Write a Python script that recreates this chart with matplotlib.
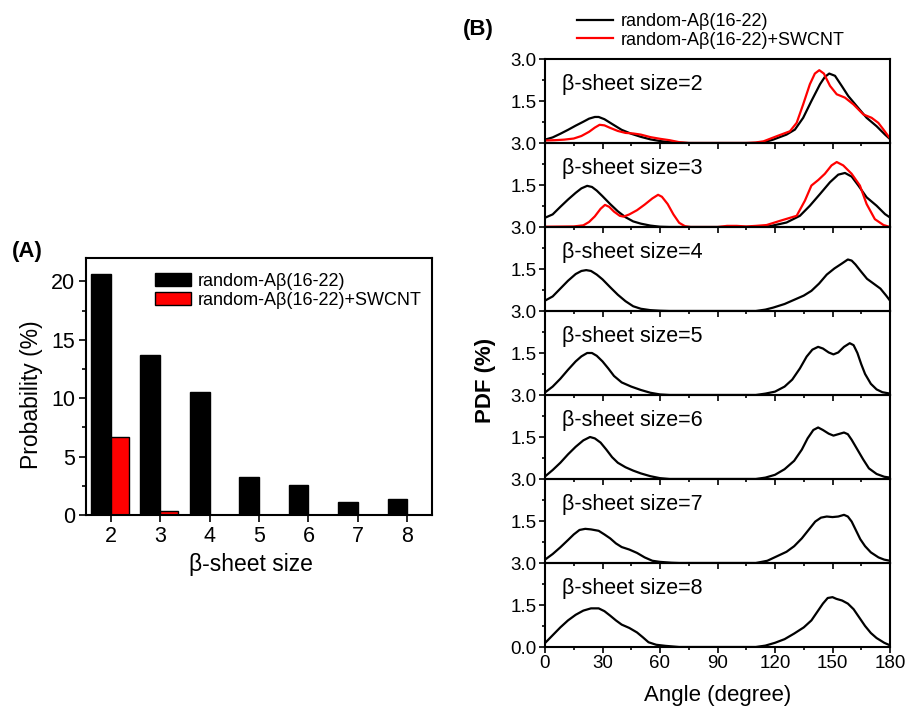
import numpy as np
import matplotlib.pyplot as plt
from matplotlib.patches import Patch
from matplotlib.lines import Line2D

plt.rcParams['font.family'] = ['Liberation Sans', 'DejaVu Sans']

# (A) probability of each beta-sheet size
sizes = [2, 3, 4, 5, 6, 7, 8]
prob_free = [20.6, 13.7, 10.5, 3.26, 2.55, 1.1, 1.39]
prob_cnt = [6.64, 0.34, 0, 0, 0, 0, 0]

# (B) angle PDFs for each beta-sheet size (angle in degree, PDF in %)
ang2 = [0, 4, 8, 12, 16, 20, 23, 26, 28, 31, 35, 40, 45, 50, 55, 60, 65, 70, 75,
        110, 114, 119, 126, 130.4, 134.7, 139, 143.5, 146, 148.3, 151.3, 154.8,
        158.2, 162.6, 167.8, 173, 177.4, 180]
pdf2 = [0.12, 0.2, 0.33, 0.47, 0.62, 0.76, 0.87, 0.93, 0.93, 0.85, 0.68, 0.47, 0.33,
        0.22, 0.13, 0.07, 0.03, 0.01, 0,
        0, 0.02, 0.12, 0.3, 0.48, 0.9, 1.5, 2.1, 2.36, 2.48, 2.4, 2.04,
        1.68, 1.32, 0.9, 0.6, 0.3, 0.14]
ang2c = [0, 5, 10, 15, 19, 23, 26, 28.5, 31, 34, 38, 42, 46, 50, 55, 60, 65, 70, 75,
         105, 110, 114, 120.8, 127.8, 131.3, 134.7, 138.2, 140.8, 143.1, 145.5, 148.7,
         152.2, 156.5, 160.9, 166.1, 170.4, 173.9, 176.6, 180]
pdf2c = [0.09, 0.1, 0.12, 0.16, 0.25, 0.4, 0.55, 0.65, 0.63, 0.54, 0.43, 0.36, 0.34,
         0.3, 0.21, 0.15, 0.1, 0.03, 0,
         0, 0.02, 0.06, 0.24, 0.42, 0.72, 1.38, 2.1, 2.48, 2.6, 2.48, 2.04,
         1.74, 1.62, 1.38, 1.02, 0.9, 0.72, 0.48, 0.16]

ang3 = [0, 4, 8, 12, 16, 19, 22, 24.5, 27, 30, 34, 38, 42, 46, 50, 55, 60, 65,
        112, 117.4, 126, 133, 138.2, 143.5, 148.7, 153, 156.5, 160, 163.5, 167.8,
        173, 177.4, 180]
pdf3 = [0.33, 0.45, 0.72, 0.98, 1.22, 1.38, 1.47, 1.43, 1.3, 1.1, 0.82, 0.56, 0.35,
        0.2, 0.12, 0.05, 0.01, 0,
        0, 0.03, 0.16, 0.4, 0.76, 1.18, 1.6, 1.87, 1.93, 1.8, 1.48, 1.06,
        0.76, 0.46, 0.34]
ang3c = [0, 15, 20, 23, 26, 29, 31.3, 33.5, 36, 39, 41, 44, 48, 52, 56, 59, 61, 64,
         67, 70, 73, 76, 90, 95, 100, 105, 110, 115.6, 122.6, 131.3, 135.6, 139,
         142.6, 146, 149.5, 152.2, 155.6, 160, 164.3, 167.8, 172.1, 176.6, 180]
pdf3c = [0.01, 0.02, 0.06, 0.18, 0.38, 0.65, 0.79, 0.72, 0.55, 0.4, 0.37, 0.45, 0.6,
         0.8, 1.02, 1.15, 1.08, 0.82, 0.45, 0.15, 0.03, 0, 0, 0.04, 0.04, 0.02,
         0.04, 0.07, 0.22, 0.4, 0.94, 1.48, 1.68, 1.9, 2.2, 2.32, 2.2, 1.9, 1.48,
         0.82, 0.28, 0.07, 0]

ang4 = [0, 4, 8, 12, 16, 19, 21.5, 24, 27, 30, 34, 38, 42, 46, 50, 55, 60, 65,
        110, 115, 119, 125, 130, 135, 139, 143, 147, 151, 155, 158, 160, 162, 165,
        168, 171, 175, 178, 180]
pdf4 = [0.37, 0.52, 0.8, 1.08, 1.32, 1.43, 1.46, 1.43, 1.3, 1.13, 0.85, 0.58, 0.35,
        0.17, 0.08, 0.03, 0.01, 0,
        0, 0.05, 0.12, 0.25, 0.4, 0.55, 0.72, 0.98, 1.3, 1.52, 1.7, 1.84, 1.8, 1.66,
        1.4, 1.15, 1.0, 0.8, 0.55, 0.37]

ang5 = [0, 4, 8, 12, 16, 19, 22, 24.5, 27, 30, 33, 36, 40, 45, 50, 55, 60, 65,
        110, 115, 120, 125, 129, 133, 136.5, 139.5, 142.5, 145, 148, 150.5, 153, 156,
        159, 161, 163, 165, 167, 170, 173, 176, 180]
pdf5 = [0.09, 0.3, 0.58, 0.9, 1.2, 1.38, 1.5, 1.5, 1.4, 1.2, 0.95, 0.68, 0.45, 0.3,
        0.18, 0.08, 0.02, 0,
        0, 0.05, 0.12, 0.3, 0.55, 0.95, 1.37, 1.62, 1.72, 1.66, 1.52, 1.45, 1.52, 1.72,
        1.85, 1.78, 1.5, 1.1, 0.75, 0.4, 0.2, 0.1, 0.05]

ang6 = [0, 4, 8, 12, 16, 20, 23.5, 26, 29, 32, 35, 38, 42, 46, 50, 55, 60, 65,
        110, 115, 120, 125, 130, 134, 137, 140, 142.5, 145, 148, 150.5, 153, 156,
        158, 160, 163, 166, 169, 173, 177, 180]
pdf6 = [0.09, 0.32, 0.58, 0.88, 1.15, 1.38, 1.5, 1.45, 1.3, 1.05, 0.78, 0.58, 0.42,
        0.3, 0.2, 0.1, 0.03, 0,
        0, 0.05, 0.15, 0.35, 0.65, 1.05, 1.45, 1.75, 1.84, 1.75, 1.62, 1.55, 1.6, 1.66,
        1.6, 1.4, 1.05, 0.7, 0.38, 0.18, 0.08, 0.05]

ang7 = [0, 4, 8, 12, 15, 18, 21, 24, 28, 31, 34, 37, 40, 44, 48, 52, 56, 60, 66, 70,
        110, 116, 121, 126, 130, 134, 137.5, 141, 144, 147, 150, 153, 156, 158, 160,
        162, 164.5, 167, 170, 174, 177, 180]
pdf7 = [0.12, 0.32, 0.56, 0.82, 1.02, 1.18, 1.22, 1.2, 1.15, 1.02, 0.88, 0.7, 0.57,
        0.48, 0.36, 0.2, 0.08, 0.04, 0.01, 0,
        0, 0.08, 0.24, 0.4, 0.6, 0.88, 1.18, 1.48, 1.62, 1.66, 1.64, 1.66, 1.72, 1.66,
        1.48, 1.2, 0.85, 0.6, 0.38, 0.2, 0.12, 0.08]

ang8 = [0, 4, 8, 12, 16, 20, 24, 28, 31, 34, 37, 40, 44, 48, 51, 54, 58, 63, 70,
        110, 115, 120, 125, 130, 135, 139, 142, 145, 147.5, 150, 152, 155, 158, 161,
        164, 167, 170, 173, 177, 180]
pdf8 = [0.14, 0.42, 0.7, 0.95, 1.15, 1.3, 1.38, 1.38, 1.28, 1.12, 0.95, 0.8, 0.68,
        0.52, 0.35, 0.17, 0.08, 0.04, 0,
        0, 0.05, 0.15, 0.28, 0.48, 0.7, 0.95, 1.25, 1.55, 1.75, 1.78, 1.72, 1.66, 1.55,
        1.35, 1.05, 0.75, 0.5, 0.32, 0.15, 0.06]

free_curves = [(ang2, pdf2), (ang3, pdf3), (ang4, pdf4), (ang5, pdf5),
               (ang6, pdf6), (ang7, pdf7), (ang8, pdf8)]
cnt_curves = {0: (ang2c, pdf2c), 1: (ang3c, pdf3c)}

lab_free = 'random-A\u03b2(16-22)'
lab_cnt = 'random-A\u03b2(16-22)+SWCNT'

W, H = 909, 710
fig = plt.figure(figsize=(W / 100, H / 100), dpi=100)

# ---- panel A: bar chart ----
axA = fig.add_axes([86 / W, 1 - 515 / H, 346 / W, 257 / H])
x = np.array(sizes)
axA.bar(x - 0.2, prob_free, width=0.4, color='black', edgecolor='black', lw=1)
axA.bar(x + 0.185, prob_cnt, width=0.37, color='red', edgecolor='black', lw=1)
axA.set_xlim(1.5, 8.5)
axA.set_ylim(0, 22)
axA.set_xticks(sizes)
axA.set_yticks([0, 5, 10, 15, 20])
axA.set_yticks(np.arange(2.5, 22, 5), minor=True)
axA.tick_params(direction='out', labelsize=15.5, width=1.2, length=5, pad=3)
axA.tick_params(which='minor', direction='out', width=1.2, length=3)
for s in axA.spines.values():
    s.set_linewidth(1.5)
axA.legend(handles=[Patch(facecolor='black', edgecolor='black', label=lab_free),
                    Patch(facecolor='red', edgecolor='black', label=lab_cnt)],
           loc='upper left', bbox_to_anchor=(155 / W, 1 - 273 / H),
           bbox_transform=fig.transFigure, frameon=False, fontsize=13,
           handlelength=2.0, handleheight=0.75, handletextpad=0.35,
           labelspacing=0.12, borderpad=0, borderaxespad=0)
fig.text(251 / W, 1 - 565 / H, '\u03b2-sheet size', fontsize=16.5,
         ha='center', va='center')
fig.text(32 / W, 1 - 395 / H, 'Probability (%)', fontsize=16.5,
         rotation=90, ha='center', va='center')
fig.text(12 / W, 1 - 252 / H, '(A)', fontsize=16, fontweight='bold', va='center')

# ---- panel B: stacked PDF panels ----
top, bot = 59, 647
ph = (bot - top) / 7
for i, (ang, pdf) in enumerate(free_curves):
    y0 = top + i * ph
    ax = fig.add_axes([545 / W, 1 - (y0 + ph) / H, 345 / W, ph / H])
    ax.set_facecolor('none')
    ax.plot(ang, pdf, color='black', lw=1.6)
    if i in cnt_curves:
        ax.plot(*cnt_curves[i], color='red', lw=1.6)
    ax.set_xlim(0, 180)
    ax.set_ylim(0, 3.0)
    ax.set_xticks(np.arange(0, 181, 30))
    ax.set_xticks(np.arange(15, 180, 30), minor=True)
    if i == 6:
        ax.set_yticks([0, 1.5, 3.0])
        ax.set_yticklabels(['0.0', '1.5', '3.0'])
    else:
        ax.set_yticks([1.5, 3.0])
        ax.set_yticklabels(['1.5', '3.0'])
        ax.tick_params(labelbottom=False)
    ax.set_yticks([0.75, 2.25], minor=True)
    ax.tick_params(direction='out', labelsize=13.5, width=1.2, length=4, pad=2)
    ax.tick_params(which='minor', direction='out', width=1.2, length=2.5)
    for s in ax.spines.values():
        s.set_linewidth(1.5)
    ax.text(8.9, 2.1, '\u03b2-sheet size=%d' % (i + 2), fontsize=15.5, va='center')

fig.text(718 / W, 1 - 696 / H, 'Angle (degree)', fontsize=16,
         ha='center', va='center')
fig.text(485 / W, 1 - 380 / H, 'PDF (%)', fontsize=16, fontweight='bold',
         rotation=90, ha='center', va='center')
fig.text(463 / W, 1 - 30 / H, '(B)', fontsize=16, fontweight='bold', va='center')
fig.legend(handles=[Line2D([], [], color='black', lw=1.6, label=lab_free),
                    Line2D([], [], color='red', lw=1.6, label=lab_cnt)],
           loc='upper left', bbox_to_anchor=(577 / W, 1 - 13 / H), frameon=False,
           fontsize=13, handlelength=2.0, handletextpad=0.4, labelspacing=0.1,
           borderpad=0, borderaxespad=0)

fig.savefig('out.png', dpi=100)
